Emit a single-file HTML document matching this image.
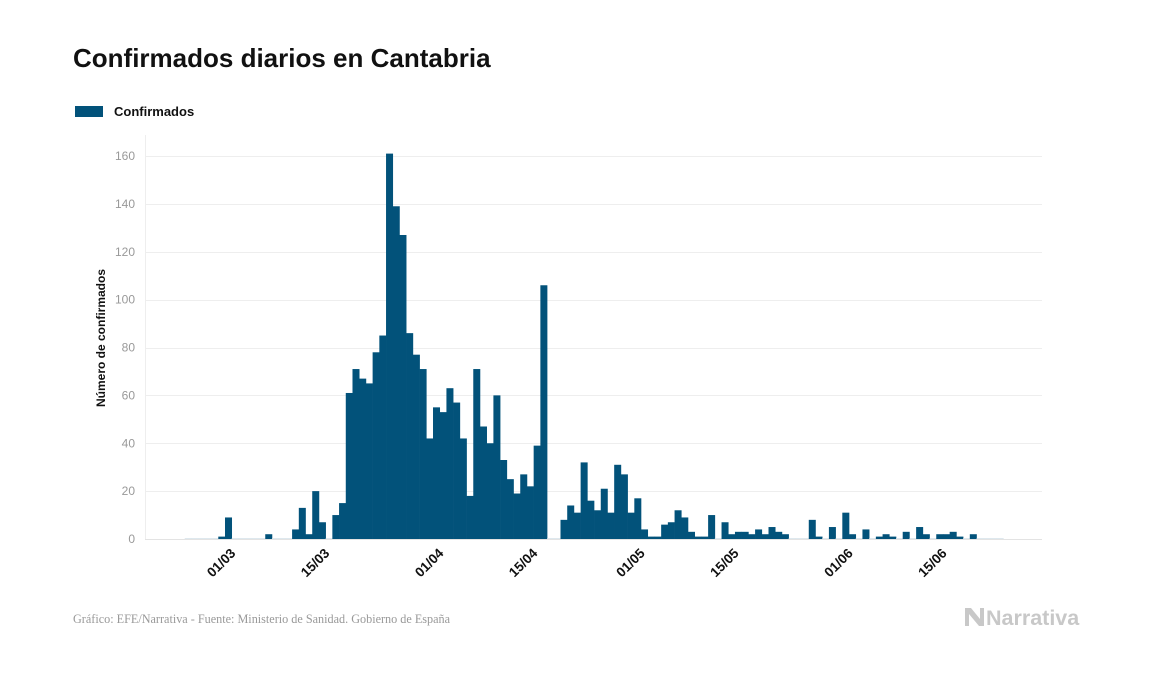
<!DOCTYPE html>
<html><head><meta charset="utf-8"><style>
body{margin:0;background:#fff;width:1157px;height:674px;overflow:hidden;font-family:"Liberation Sans",sans-serif}
</style></head><body>
<svg width="1157" height="674" xmlns="http://www.w3.org/2000/svg" id="svg">
<text x="73" y="67" font-size="26" font-weight="bold" fill="#111">Confirmados diarios en Cantabria</text>
<rect x="75" y="106" width="28" height="11" fill="#02527a"/>
<text x="114" y="116" font-size="13" font-weight="bold" fill="#111">Confirmados</text>
<text transform="translate(105,338) rotate(-90)" text-anchor="middle" font-size="12" font-weight="bold" fill="#111">Número de confirmados</text>
<line x1="145.5" y1="135" x2="145.5" y2="539" stroke="#eee"/>
<g id="grid"></g><g id="bars"></g><g id="xt"></g>
<text x="73" y="623" font-size="12.2" fill="#999" font-family="Liberation Serif, serif">Gráfico: EFE/Narrativa - Fuente: Ministerio de Sanidad. Gobierno de España</text>
<g>
<path d="M965 608 l6 0 l9 11 l0 -11 l4 0 l0 18 l-5 0 l-10 -12 l0 12 l-4 0z" fill="#c8c8c8"/>
<text x="986" y="625" font-size="21.5" font-weight="bold" fill="#c8c8c8">Narrativa</text>
</g>
</svg>
<script>
const startDay = -6; // 24/02
const values = [0,0,0,0,0,1,9,0,0,0,0,0,2,0,0,0,4,13,2,20,7,0,10,15,61,71,67,65,78,85,161,139,127,86,77,71,42,55,53,63,57,42,18,71,47,40,60,33,25,19,27,22,39,106,0,0,8,14,11,32,16,12,21,11,31,27,11,17,4,1,1,6,7,12,9,3,1,1,10,0,7,2,3,3,2,4,2,5,3,2,0,0,0,8,1,0,5,0,11,2,0,4,0,1,2,1,0,3,0,5,2,0,2,2,3,1,0,2,0,0,0,0];
const yTicks = [0,20,40,60,80,100,120,140,160];
const xTickDays = [0,14,31,45,61,75,92,106];
const xTickLabels = ["01/03","15/03","01/04","15/04","01/05","15/05","01/06","15/06"];
const NS="http://www.w3.org/2000/svg";
const y = v => 539 - v*(383/160);
const step = 6.71;
const x = d => 225 + step*d;
const grid=document.getElementById('grid'), bars=document.getElementById('bars'), xt=document.getElementById('xt');
yTicks.forEach(t=>{
  const l=document.createElementNS(NS,'line');
  l.setAttribute('x1',145);l.setAttribute('x2',1042);l.setAttribute('y1',Math.round(y(t))+0.5);l.setAttribute('y2',Math.round(y(t))+0.5);
  l.setAttribute('stroke',t===0?'#e3e3e3':'#eeeeee');
  
  
  grid.appendChild(l);
  const tx=document.createElementNS(NS,'text');
  tx.setAttribute('x',135);tx.setAttribute('y',y(t)+4);tx.setAttribute('text-anchor','end');
  tx.setAttribute('font-size','12');tx.setAttribute('fill','#999');tx.textContent=t;
  
  
  grid.appendChild(tx);
});
values.forEach((v,i)=>{
  const d=startDay+i;
  const r=document.createElementNS(NS,'rect');
  const h=Math.max(v*(383/160),0.8);
  r.setAttribute('x',x(d));r.setAttribute('width',step+0.3);
  r.setAttribute('y',539-h);r.setAttribute('height',h);
  r.setAttribute('fill',v===0?'#d6e3ea':'#02527a');
  
  
  bars.appendChild(r);
});
xTickDays.forEach((d,i)=>{
  const cx=x(d)+step/2;
  const tx=document.createElementNS(NS,'text');
  tx.setAttribute('transform',`translate(${cx+8},${554}) rotate(-45)`);
  tx.setAttribute('text-anchor','end');tx.setAttribute('font-size','13.5');tx.setAttribute('font-weight','bold');tx.setAttribute('fill','#111');
  tx.textContent=xTickLabels[i];
  
  
  xt.appendChild(tx);
});
</script>
</body></html>
